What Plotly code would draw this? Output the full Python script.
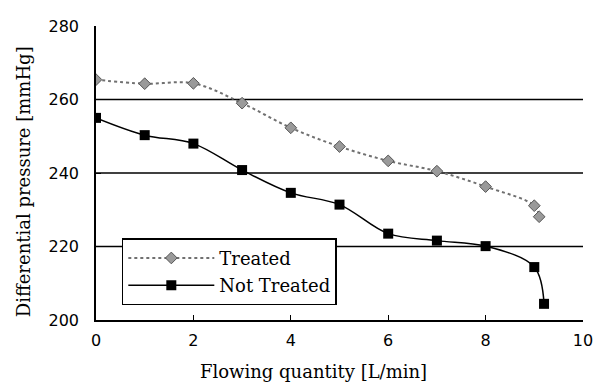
import plotly.graph_objects as go

flow_treated = [0, 1, 2, 3, 4, 5, 6, 7, 8, 9, 9.1]
pressure_treated = [265.4, 264.3, 264.4, 259.0, 252.3, 247.2, 243.3, 240.5, 236.3, 231.1, 228.1]

flow_not_treated = [0, 1, 2, 3, 4, 5, 6, 7, 8, 9, 9.2]
pressure_not_treated = [255.0, 250.3, 248.0, 240.8, 234.6, 231.4, 223.5, 221.6, 220.1, 214.4, 204.4]

x_ticks = [0, 2, 4, 6, 8, 10]
y_ticks = [200, 220, 240, 260, 280]
grid_values = [220, 240, 260]

fig = go.Figure()

fig.add_trace(go.Scatter(
    x=flow_treated, y=pressure_treated, name="Treated", legendgroup="a",
    mode="lines+markers", line=dict(color="#707070", width=2, dash="dot", shape="spline"),
    marker=dict(symbol="diamond", size=9, color="#9a9a9a", line=dict(color="#555555", width=1)),
))
fig.add_trace(go.Scatter(
    x=flow_not_treated, y=pressure_not_treated, name="Not Treated", legendgroup="b",
    mode="lines+markers", line=dict(color="black", width=1.5, shape="spline"),
    marker=dict(symbol="square", size=10, color="black"),
))

for g in grid_values:
    fig.add_hline(y=g, line=dict(color="black", width=1.5), layer="below")

tick_font = dict(family="DejaVu Sans", size=16, color="black")
title_font = dict(family="DejaVu Serif", size=18, color="black")
# the page body keeps an 8px default margin, so the figure is sized to fit the window
fig.update_layout(
    width=594, height=378,
    margin=dict(l=88, r=9, t=10, b=66),
    paper_bgcolor="white", plot_bgcolor="white",
    showlegend=True,
    legend=dict(
        x=0.053, y=0.278, xanchor="left", yanchor="top",
        bordercolor="black", borderwidth=1.5, bgcolor="white",
        font=dict(family="DejaVu Serif", size=18, color="black"),
        itemwidth=86, tracegroupgap=1,
    ),
    xaxis=dict(
        range=[0, 10], tickvals=x_ticks, ticktext=[str(v) for v in x_ticks],
        showgrid=False, zeroline=False, showline=True, linecolor="black", linewidth=1.5,
        ticks="inside", ticklen=5, tickcolor="black", tickfont=tick_font,
        ticklabelstandoff=5, ticklabeloverflow="allow",
    ),
    yaxis=dict(
        range=[200, 280], tickvals=y_ticks, ticktext=[str(v) for v in y_ticks],
        showgrid=False, zeroline=False, showline=True, linecolor="black", linewidth=1.5,
        ticks="inside", ticklen=5, tickcolor="black", tickfont=tick_font,
        ticklabelstandoff=12, ticklabeloverflow="allow",
    ),
    annotations=[
        dict(text="Flowing quantity [L/min]", xref="paper", yref="paper",
             x=0.447, y=-0.175, xanchor="center", yanchor="middle", showarrow=False,
             font=title_font),
        dict(text="Differential pressure [mmHg]", xref="paper", yref="paper",
             x=-0.149, y=0.47, xanchor="center", yanchor="middle", showarrow=False,
             textangle=-90, font=title_font),
    ],
)

fig.write_html("out.html")
